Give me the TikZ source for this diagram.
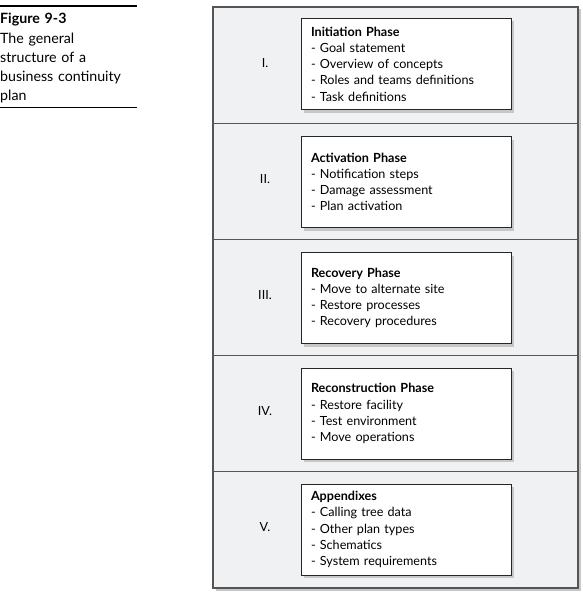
\documentclass[tikz,border=0pt]{standalone}
\usepackage{fontspec}
\setmainfont{Lato}
\usetikzlibrary{shadows}
\definecolor{planbg}{RGB}{240,241,243}
\definecolor{planline}{RGB}{85,85,85}

\tikzset{
  section/.style={draw=planline, line width=1.3pt, fill=planbg,
    minimum width=365pt, minimum height=116.2pt, inner sep=0pt,
    drop shadow={shadow xshift=2.5pt, shadow yshift=-2.5pt, fill=black!22, opacity=1}},
  phase/.style={draw=black!85, line width=1pt, fill=white, align=left,
    text width=190pt, minimum height=91pt, inner xsep=10pt,
    font=\fontsize{12.6}{16.2}\selectfont,
    drop shadow={shadow xshift=3pt, shadow yshift=-3pt, fill=black!22, opacity=1}},
  numeral/.style={font=\fontsize{12.6}{14}\selectfont},
  caption/.style={anchor=north west, align=left, text width=137pt, inner xsep=0pt,
    inner ysep=4pt, font=\fontsize{14.2}{19.3}\selectfont}
}

\begin{document}
\begin{tikzpicture}[x=1pt, y=-1pt]
	\useasboundingbox (0, 0) rectangle (583, 594);
	% Caption:
	\node[caption] (cap) at (0, 9) {\textbf{Figure 9-3}\\The general\\structure of a\\business continuity\\plan};
	\draw[line width=1.8pt] ([yshift=3pt]cap.north west) -- ([yshift=3pt]cap.north east);
	\draw[line width=0.8pt] (cap.south west) -- (cap.south east);
	% Sections of the plan:
	\node[section] (sec1) at (395.5, 65.1) {};
	\node[section] (sec2) at (395.5, 181.3) {};
	\node[section] (sec3) at (395.5, 297.5) {};
	\node[section] (sec4) at (395.5, 413.7) {};
	\node[section] (sec5) at (395.5, 529.9) {};
	% Numerals:
	\node[numeral] (num1) at (265, 63) {I.};
	\node[numeral] (num2) at (265, 179) {II.};
	\node[numeral] (num3) at (265, 295) {III.};
	\node[numeral] (num4) at (265, 411) {IV.};
	\node[numeral] (num5) at (265, 527) {V.};
	% Phase boxes:
	\node[phase] (init) at (406, 64) {\textbf{Initiation Phase}\\- Goal statement\\- Overview of concepts\\- Roles and teams definitions\\- Task definitions};
	\node[phase] (activ) at (406, 182) {\textbf{Activation Phase}\\- Notification steps\\- Damage assessment\\- Plan activation};
	\node[phase] (recov) at (406, 298) {\textbf{Recovery Phase}\\- Move to alternate site\\- Restore processes\\- Recovery procedures};
	\node[phase] (recon) at (406, 413.5) {\textbf{Reconstruction Phase}\\- Restore facility\\- Test environment\\- Move operations};
	\node[phase] (appx) at (406, 529.5) {\textbf{Appendixes}\\- Calling tree data\\- Other plan types\\- Schematics\\- System requirements};
\end{tikzpicture}
\end{document}
